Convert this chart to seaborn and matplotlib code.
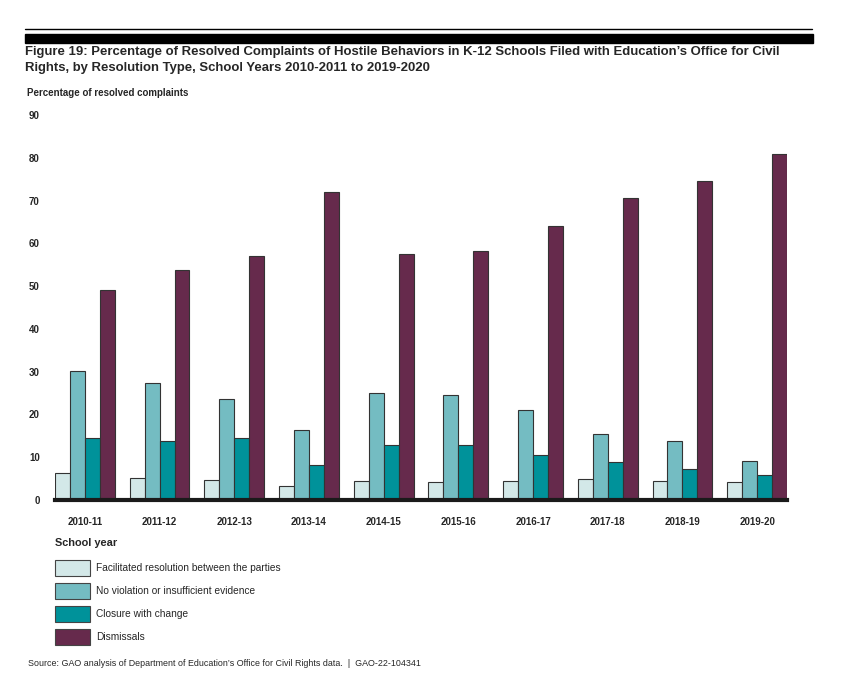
import matplotlib
matplotlib.use("Agg")
import matplotlib.pyplot as plt
import seaborn as sns
import pandas as pd
from matplotlib.lines import Line2D
from matplotlib.patches import Rectangle

# data
years = ['2010-11', '2011-12', '2012-13', '2013-14', '2014-15',
         '2015-16', '2016-17', '2017-18', '2018-19', '2019-20']
facilitated = [6.3, 5.1, 4.7, 3.3, 4.4, 4.2, 4.4, 4.9, 4.4, 4.2]
no_violation = [30.1, 27.3, 23.6, 16.4, 25.0, 24.5, 21.0, 15.4, 13.8, 9.1]
closure = [14.5, 13.8, 14.5, 8.2, 12.9, 12.9, 10.5, 8.9, 7.2, 5.8]
dismissals = [49.1, 53.7, 57.0, 72.0, 57.5, 58.2, 64.0, 70.6, 74.5, 80.8]

types = ['Facilitated resolution between the parties',
         'No violation or insufficient evidence',
         'Closure with change',
         'Dismissals']
colors = ['#d3e8e8', '#74bcc2', '#00929a', '#662a4c']

df = pd.DataFrame({
    'year': years * 4,
    'type': [t for t in types for _ in years],
    'value': facilitated + no_violation + closure + dismissals,
})

sns.set_theme(style='white')
plt.rcParams['font.family'] = ['Liberation Sans', 'DejaVu Sans']

fig = plt.figure(figsize=(8.6, 6.76), dpi=100)
ax = fig.add_axes([55 / 860, 1 - 500 / 676, 732 / 860, 385 / 676])

sns.barplot(data=df, x='year', y='value', hue='type', hue_order=types,
            palette=dict(zip(types, colors)), saturation=1, width=0.8, ax=ax,
            edgecolor='#333333', linewidth=0.8, legend=False)

ax.set_xlim(-0.4, 9.4)
ax.set_ylim(0, 90)
ax.set_yticks(range(0, 91, 10))
ax.set_xlabel('')
ax.set_ylabel('')
for s in ['top', 'right', 'left']:
    ax.spines[s].set_visible(False)
ax.spines['bottom'].set_linewidth(3)
ax.spines['bottom'].set_color('#1a1a1a')
ax.tick_params(axis='y', length=0, pad=11, labelsize=7)
ax.tick_params(axis='x', length=0, pad=12, labelsize=7)
for lab in ax.get_xticklabels() + ax.get_yticklabels():
    lab.set_fontweight('bold')

# header rules
fig.add_artist(Line2D([25 / 860, 812 / 860], [1 - 29 / 676] * 2, color='black', lw=1))
fig.add_artist(Rectangle((25 / 860, 1 - 43 / 676), 788 / 860, 9 / 676,
                         color='black', transform=fig.transFigure))

fig.text(25 / 860, 1 - 60 / 676,
         'Figure 19: Percentage of Resolved Complaints of Hostile Behaviors in K-12 Schools '
         'Filed with Education\u2019s Office for Civil\nRights, by Resolution Type, '
         'School Years 2010-2011 to 2019-2020',
         fontsize=9.45, fontweight='bold', va='center', ha='left', linespacing=1.5)
fig.text(27 / 860, 1 - 93 / 676, 'Percentage of resolved complaints',
         fontsize=7, fontweight='bold', va='center')
fig.text(55 / 860, 1 - 543 / 676, 'School year', fontsize=7.9, fontweight='bold', va='center')

handles = [Rectangle((0, 0), 1, 1, facecolor=c, edgecolor='#444444', lw=0.8) for c in colors]
fig.legend(handles, types, loc='upper left', bbox_to_anchor=(55 / 860, 1 - 560 / 676),
           frameon=False, fontsize=7.25, handlelength=3.5, handleheight=2.1,
           handletextpad=0.6, labelspacing=0.66, borderpad=0, borderaxespad=0)

fig.text(28 / 860, 1 - 663 / 676,
         'Source: GAO analysis of Department of Education\u2019s Office for Civil Rights data.  |  GAO-22-104341',
         fontsize=6.38, va='center')

fig.savefig('out.png', dpi=100)
